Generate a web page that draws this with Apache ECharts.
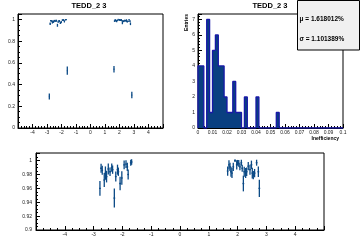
<!DOCTYPE html>
<html><head><meta charset="utf-8">
<script src="https://cdn.jsdelivr.net/npm/echarts@6/dist/echarts.min.js"></script>
<style>html,body{margin:0;padding:0;background:#fff}#c{width:360px;height:240px}</style>
</head><body><div id="c"></div>
<script>
// efficiency vs position (points with error bars)
const effX = [-2.84, -2.78, -2.74, -2.70, -2.63, -2.59, -2.55, -2.49, -2.43, -2.37, -2.34, -2.28, -2.23, -2.17, -2.14, -2.08, -2.02, -1.94, -1.875, -1.83, -1.80, -1.71, -1.68, -1.60,
  1.62, 1.655, 1.70, 1.736, 1.77, 1.805, 1.85, 1.91, 1.97, 2.00, 2.04, 2.08, 2.13, 2.16, 2.20, 2.23, 2.28, 2.315, 2.37, 2.43, 2.48, 2.51, 2.545, 2.59, 2.66, 2.72, 2.755, 2.85];
const effY = [0.290, 0.960, 0.989, 0.986, 0.972, 0.982, 0.977, 0.988, 0.984, 0.990, 0.987, 0.946, 0.977, 0.987, 0.984, 0.967, 0.975, 0.994, 0.995, 0.991, 0.980, 0.997, 0.998, 0.528,
  0.541, 0.985, 0.994, 0.991, 0.984, 0.982, 0.991, 1.000, 0.994, 0.997, 0.996, 0.991, 0.997, 0.989, 0.967, 0.984, 0.982, 0.984, 0.992, 0.987, 0.994, 0.982, 0.979, 0.982, 0.997, 0.984, 0.960, 0.303];
const effErr = [0.028, 0.0108, 0.0065, 0.0065, 0.010, 0.0096, 0.0084, 0.0079, 0.006, 0.006, 0.006, 0.0137, 0.0072, 0.0072, 0.006, 0.0096, 0.0096, 0.0063, 0.0055, 0.006, 0.0072, 0.0043, 0.004, 0.038,
  0.030, 0.0067, 0.0067, 0.006, 0.0072, 0.0072, 0.0058, 0.002, 0.0067, 0.004, 0.0048, 0.005, 0.0043, 0.005, 0.0113, 0.0072, 0.0072, 0.006, 0.006, 0.0072, 0.006, 0.0077, 0.006, 0.006, 0.0043, 0.0077, 0.0125, 0.030];
const effXErr = 0.03;

// inefficiency histogram
const histLow = [0, 0.002, 0.006, 0.008, 0.010, 0.012, 0.014, 0.016, 0.018, 0.020, 0.022, 0.024, 0.026, 0.028, 0.032, 0.040, 0.054];
const histCounts = [4, 4, 7, 1, 5, 6, 4, 4, 2, 1, 1, 3, 1, 1, 2, 2, 1];
const histBinWidth = 0.002;
const histRange = [0, 0.1];

const titleText = 'TEDD_2 3';
const statMean = '\u03bc = 1.618012%';
const statSigma = '\u03c3 = 1.101389%';
const yTitleHist = 'Entries';
const xTitleHist = 'Inefficiency';

const ptColor = '#0b4a86';
const effData = effX.map((x, i) => [x, effY[i], effErr[i]]);
const nBins = Math.round((histRange[1] - histRange[0]) / histBinWidth);
const full = new Array(nBins).fill(0);
histLow.forEach((lo, i) => { full[Math.round((lo - histRange[0]) / histBinWidth)] = histCounts[i]; });
const outline = [[histRange[0], 0]];
full.forEach((c, i) => { const x0 = histRange[0] + i * histBinWidth; outline.push([x0, c], [x0 + histBinWidth, c]); });
outline.push([histRange[1], 0]);

function errRender(params, api) {
  const x = api.value(0), y = api.value(1), e = api.value(2);
  const t = api.coord([x, y + e]), b = api.coord([x, y - e]);
  const l = api.coord([x - effXErr, y]), r = api.coord([x + effXErr, y]);
  return { type: 'group', children: [
    { type: 'line', shape: { x1: t[0], y1: t[1], x2: b[0], y2: b[1] }, style: { stroke: ptColor, lineWidth: 1.3 } },
    { type: 'line', shape: { x1: l[0], y1: l[1], x2: r[0], y2: r[1] }, style: { stroke: ptColor, lineWidth: 1.3 } }
  ] };
}

function ax(extra) {
  return Object.assign({
    type: 'value',
    axisLine: { show: true, onZero: false, lineStyle: { color: '#000', width: 1 } },
    axisTick: { show: true, inside: true, length: 4, lineStyle: { color: '#000', width: 1 } },
    minorTick: { show: true, splitNumber: 5, length: 2, lineStyle: { color: '#000', width: 1 } },
    splitLine: { show: false },
    axisLabel: { fontSize: 5, color: '#222', fontFamily: 'Liberation Sans', margin: 2 }
  }, extra);
}
function lab(extra) { return Object.assign({ fontSize: 5, color: '#222', fontFamily: 'Liberation Sans', margin: 2 }, extra); }

const chart = echarts.init(document.getElementById('c'), null, { renderer: 'canvas' });
chart.setOption({
  animation: false,
  backgroundColor: '#fff',
  grid: [
    { left: 18, top: 14, width: 145, height: 114, show: true, borderColor: '#000', borderWidth: 1, containLabel: false },
    { left: 198, top: 14, width: 145, height: 114, show: true, borderColor: '#000', borderWidth: 1, containLabel: false },
    { left: 36, top: 153, width: 288, height: 77, show: true, borderColor: '#000', borderWidth: 1, containLabel: false }
  ],
  xAxis: [
    ax({ gridIndex: 0, min: -5, max: 5, interval: 1, axisLabel: lab({ showMinLabel: false, showMaxLabel: false }) }),
    ax({ gridIndex: 1, min: 0, max: 0.1, interval: 0.01 }),
    ax({ gridIndex: 2, min: -5, max: 5, interval: 1, minorTick: { show: true, splitNumber: 4, length: 2, lineStyle: { color: '#000' } }, axisLabel: lab({ showMinLabel: false, showMaxLabel: false }) })
  ],
  yAxis: [
    ax({ gridIndex: 0, min: 0, max: 1.05, interval: 0.2, minorTick: { show: true, splitNumber: 4, length: 2, lineStyle: { color: '#000' } }, axisLabel: lab({ margin: 3, showMaxLabel: false }) }),
    ax({ gridIndex: 1, min: 0, max: 7.35, interval: 1, axisLabel: lab({ margin: 3, showMaxLabel: false }) }),
    ax({ gridIndex: 2, min: 0.9, max: 1.011, interval: 0.02, minorTick: { show: true, splitNumber: 4, length: 2, lineStyle: { color: '#000' } }, axisLabel: lab({ margin: 4, showMaxLabel: false }) })
  ],
  series: [
    { type: 'custom', xAxisIndex: 0, yAxisIndex: 0, data: effData, renderItem: errRender, clip: true, encode: { x: 0, y: 1 }, z: 3 },
    { type: 'line', xAxisIndex: 1, yAxisIndex: 1, data: outline, symbol: 'none', clip: true,
      lineStyle: { color: '#1818a8', width: 1.3 }, areaStyle: { color: '#093f80', opacity: 1 }, z: 3 },
    { type: 'custom', xAxisIndex: 2, yAxisIndex: 2, data: effData, renderItem: errRender, clip: true, encode: { x: 0, y: 1 }, z: 3 }
  ],
  graphic: [
    { type: 'text', position: [89, 5.5], style: { text: titleText, fill: '#000', font: 'bold 7.5px "Liberation Sans"', align: 'center', verticalAlign: 'middle' } },
    { type: 'text', position: [270, 5.5], style: { text: titleText, fill: '#000', font: 'bold 7.5px "Liberation Sans"', align: 'center', verticalAlign: 'middle' } },
    { type: 'text', position: [186.5, 14], rotation: Math.PI / 2, style: { text: yTitleHist, fill: '#000', font: 'bold 5px "Liberation Sans"', align: 'right', verticalAlign: 'middle' } },
    { type: 'text', position: [339, 138.5], style: { text: xTitleHist, fill: '#000', font: 'bold 5px "Liberation Sans"', align: 'right', verticalAlign: 'middle' } },
    { type: 'rect', z: 100, shape: { x: 297.5, y: 0.5, width: 62, height: 49.5 }, style: { fill: '#f0f0f0', stroke: '#000', lineWidth: 1 } },
    { type: 'text', z: 101, position: [299.5, 19], style: { text: statMean, fill: '#000', font: 'bold 6.5px "Liberation Sans"', align: 'left', verticalAlign: 'middle' } },
    { type: 'text', z: 101, position: [299.5, 39.3], style: { text: statSigma, fill: '#000', font: 'bold 6.5px "Liberation Sans"', align: 'left', verticalAlign: 'middle' } }
  ]
});
</script></body></html>
